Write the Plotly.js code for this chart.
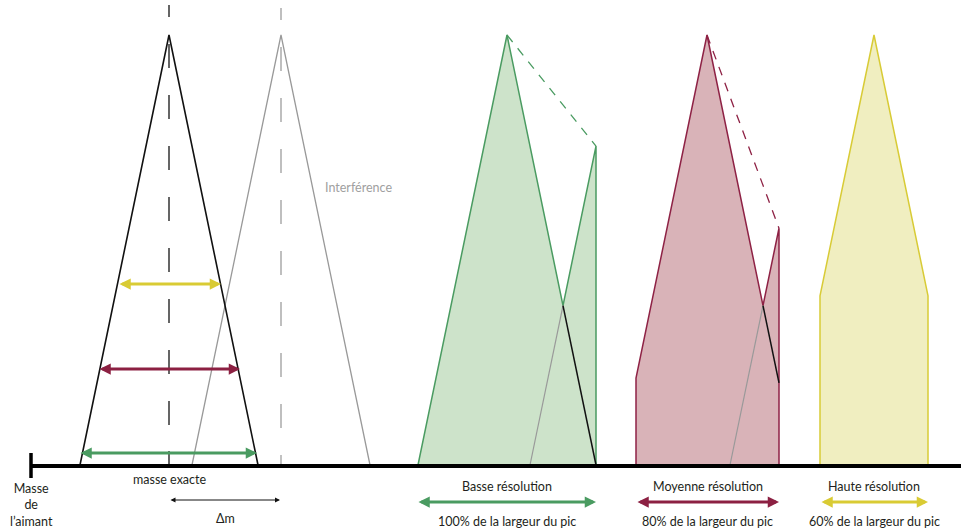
<!DOCTYPE html>
<html>
<head>
<meta charset="utf-8">
<script src="https://cdn.plot.ly/plotly-3.0.1.min.js"></script>
<style>html,body{margin:0;padding:0;background:#fff;}#chart{width:961px;height:529px;}</style>
</head>
<body>
<div id="chart"></div>
<script>
// ---- data (diagram units: x = mass axis, y = signal height above baseline) ----
const peakHeight = 430;
const peakHalfWidth = 89;
const exactMass = 169;
const interferenceMass = 281;
const resolutionNames = ['Basse résolution', 'Moyenne résolution', 'Haute résolution'];
const resolutionLabels = ['100% de la largeur du pic', '80% de la largeur du pic', '60% de la largeur du pic'];
const resolutionCenters = [507, 707, 874];
const windowLeft = [417, 636, 820];
const windowRight = [596, 779, 928];
const widthArrowHeights = [12, 96, 181];
const widthArrowLeft = [79, 98, 118];
const widthArrowRight = [257, 240, 221];
const axisStart = 31, axisEnd = 961;

// ---- styles ----
const fillCols = ['#cde3ca', '#d9b3b8', '#f0eec0'];
const lineCols = ['#4a9b61', '#8e2245', '#d8cb36'];
const arrowCols = ['#4a9b61', '#8c2042', '#d9cb34'];
const FONT = 'Lato, "Open Sans", sans-serif';
const FS = 12.5;
const TXT = '#231f20';

const offset = interferenceMass - exactMass;
function tri(c, x) { return Math.max(0, peakHeight * (1 - Math.abs(x - c) / peakHalfWidth)); }

const traces = [];
const annotations = [];

// resolution windows
resolutionCenters.forEach((c, i) => {
  const L = windowLeft[i], R = windowRight[i], ci = c + offset;
  const cross = (c + ci) / 2;
  let pts = [L, c - peakHalfWidth, c, cross, ci - peakHalfWidth, ci, c + peakHalfWidth, R]
    .filter(x => x >= L && x <= R);
  pts = Array.from(new Set(pts)).sort((a, b) => a - b);
  const env = x => Math.max(tri(c, x), tri(ci, x));
  const px = [L].concat(pts, [R, L]);
  const py = [0].concat(pts.map(env), [0, 0]);
  traces.push({x: px, y: py, mode: 'lines', fill: 'toself', fillcolor: fillCols[i],
    line: {color: lineCols[i], width: 1.5}, hoverinfo: 'skip'});
  if (cross < R) {
    traces.push({x: [ci - peakHalfWidth, cross], y: [0, tri(c, cross)], mode: 'lines',
      line: {color: '#999999', width: 1.2}, hoverinfo: 'skip'});
    const bx = Math.min(R, c + peakHalfWidth);
    traces.push({x: [cross, bx], y: [tri(c, cross), tri(c, bx)], mode: 'lines',
      line: {color: '#111111', width: 1.5}, hoverinfo: 'skip'});
    traces.push({x: [c, R], y: [peakHeight, env(R)], mode: 'lines',
      line: {color: lineCols[i], width: 1.3, dash: '9px,8px'}, hoverinfo: 'skip'});
  }
  annotations.push({x: (L + R) / 2, y: -21, text: resolutionNames[i], showarrow: false,
    font: {family: FONT, size: FS, color: TXT}, xanchor: 'center', yanchor: 'middle'});
  annotations.push({x: (L + R) / 2, y: -56, text: resolutionLabels[i], showarrow: false,
    font: {family: FONT, size: FS, color: TXT}, xanchor: 'center', yanchor: 'middle'});
  annotations.push({x: R, y: -37, ax: L, ay: -37, axref: 'x', ayref: 'y', xref: 'x', yref: 'y',
    text: '', showarrow: true, arrowhead: 2, arrowside: 'end+start', arrowsize: 0.75,
    arrowwidth: 3, arrowcolor: arrowCols[i], standoff: 0, startstandoff: 0});
});

// main peaks
traces.push({x: [interferenceMass - peakHalfWidth, interferenceMass, interferenceMass + peakHalfWidth],
  y: [0, peakHeight, 0], mode: 'lines', line: {color: '#999999', width: 1.3}, hoverinfo: 'skip'});
traces.push({x: [exactMass - peakHalfWidth, exactMass, exactMass + peakHalfWidth],
  y: [0, peakHeight, 0], mode: 'lines', line: {color: '#111111', width: 1.6}, hoverinfo: 'skip'});
// dashed verticals
traces.push({x: [exactMass, exactMass], y: [40, 460], mode: 'lines',
  line: {color: '#333333', width: 1.5, dash: '24px,27px'}, hoverinfo: 'skip'});
traces.push({x: [interferenceMass, interferenceMass], y: [37, 457], mode: 'lines',
  line: {color: '#aaaaaa', width: 1.5, dash: '24px,27px'}, hoverinfo: 'skip'});
// ticks
traces.push({x: [exactMass, exactMass], y: [0, 14], mode: 'lines', line: {color: '#111', width: 1.3}, hoverinfo: 'skip'});
traces.push({x: [interferenceMass, interferenceMass], y: [-3, 10], mode: 'lines', line: {color: '#999', width: 1.2}, hoverinfo: 'skip'});
// baseline axis
traces.push({x: [axisStart, axisEnd], y: [-1, -1], mode: 'lines', line: {color: '#000', width: 4}, hoverinfo: 'skip'});
traces.push({x: [axisStart, axisStart], y: [-13, 12], mode: 'lines', line: {color: '#000', width: 3.5}, hoverinfo: 'skip'});

// width arrows on main peak
widthArrowHeights.forEach((h, i) => {
  annotations.push({x: widthArrowRight[i], y: h, ax: widthArrowLeft[i], ay: h, axref: 'x', ayref: 'y',
    xref: 'x', yref: 'y', text: '', showarrow: true, arrowhead: 2, arrowside: 'end+start',
    arrowsize: 0.75, arrowwidth: 3, arrowcolor: arrowCols[i], standoff: 0, startstandoff: 0});
});
// delta m arrow
annotations.push({x: interferenceMass - 1, y: -35, ax: exactMass, ay: -35, axref: 'x', ayref: 'y',
  xref: 'x', yref: 'y', text: '', showarrow: true, arrowhead: 2, arrowside: 'end+start',
  arrowsize: 1, arrowwidth: 1, arrowcolor: '#111', standoff: 0, startstandoff: 0});
annotations.push({x: (exactMass + interferenceMass) / 2, y: -53, text: 'Δm', showarrow: false,
  font: {family: FONT, size: FS, color: TXT}});
annotations.push({x: exactMass, y: -14, text: 'masse exacte', showarrow: false,
  font: {family: FONT, size: FS, color: TXT}});
annotations.push({x: axisStart, y: -40, text: 'Masse<br>de<br>l’aimant', showarrow: false,
  font: {family: FONT, size: FS, color: TXT}, align: 'center'});
annotations.push({x: 323, y: 278, text: 'Interférence', showarrow: false, xanchor: 'left',
  font: {family: FONT, size: FS, color: '#a0a0a0'}});

const layout = {
  width: 961, height: 529,
  margin: {l: 0, r: 0, t: 0, b: 0},
  paper_bgcolor: '#ffffff', plot_bgcolor: '#ffffff',
  showlegend: false,
  xaxis: {range: [0, 961], visible: false, fixedrange: true},
  yaxis: {range: [-64, 465], visible: false, fixedrange: true},
  annotations: annotations
};
Plotly.newPlot('chart', traces, layout, {staticPlot: true, displayModeBar: false});
</script>
</body>
</html>
